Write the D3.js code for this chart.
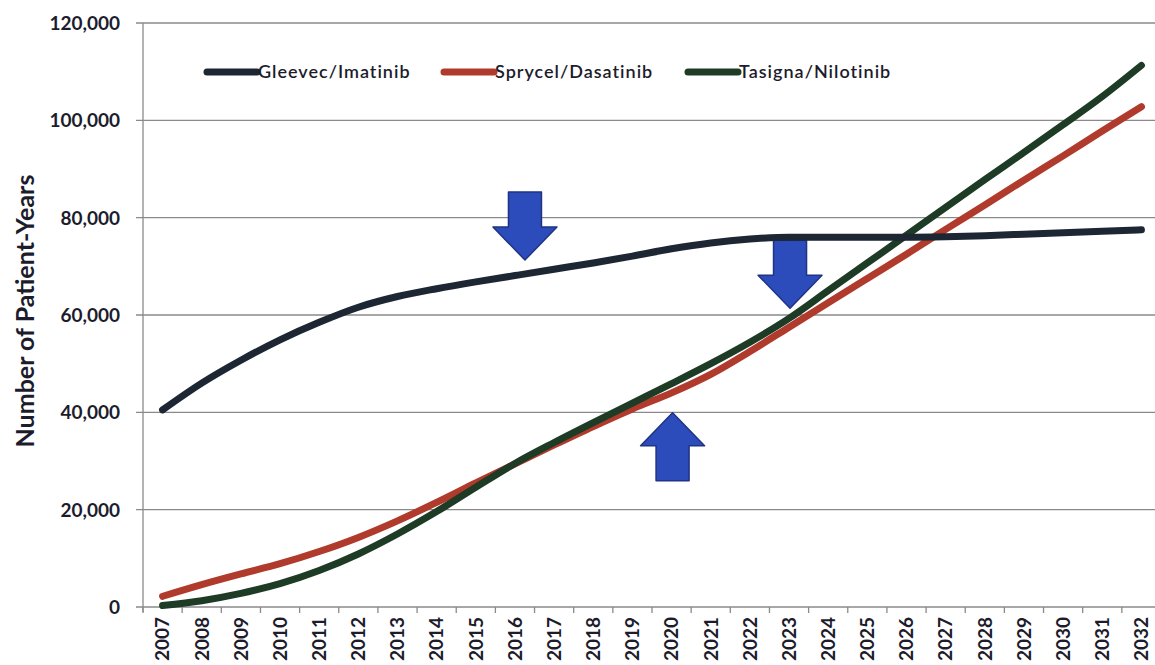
<!DOCTYPE html>
<html>
<head>
<meta charset="utf-8">
<script src="https://cdn.jsdelivr.net/npm/d3@7"></script>
<style>
  body { margin: 0; background: #fff; }
  text { font-family: Lato, "Open Sans", sans-serif; }
</style>
</head>
<body>
<div id="chart"></div>
<script>
// years on the x axis
var years = d3.range(2007, 2033).map(String);

// patient-years per drug
var gleevec = [40500, 46000, 50700, 54900, 58500, 61600, 63800, 65400, 66800, 68100,
               69400, 70700, 72100, 73600, 74800, 75600, 76000, 76000, 76000, 76000,
               76100, 76300, 76600, 76900, 77200, 77500];
var sprycel = [2200, 4600, 6800, 8900, 11400, 14300, 17700, 21500, 25500, 29400,
               33300, 37100, 40700, 44000, 47800, 52500, 57500, 62500, 67500, 72500,
               77600, 82600, 87700, 92700, 97800, 102800];
var tasigna = [300, 1300, 2800, 4800, 7500, 10900, 15000, 19600, 24600, 29500,
               33800, 37900, 41900, 45900, 50000, 54400, 59300, 65000, 70700, 76400,
               82100, 87800, 93400, 99100, 104900, 111300];

var seriesNames = ["Gleevec/Imatinib", "Sprycel/Dasatinib", "Tasigna/Nilotinib"];
var seriesColors = ["#1d2633", "#b03a2c", "#1e3b26"];

var yTicks = [0, 20000, 40000, 60000, 80000, 100000, 120000];

// blue arrow callouts: year, value at the tip, direction
var arrows = [
  {year: "2016", dx: 10, value: 71300, dir: "down"},
  {year: "2023", dx: 1, value: 61400, dir: "down"},
  {year: "2020", dx: 1, value: 39900, dir: "up"}
];

var width = 1155, height = 665;
var plotLeft = 143, plotRight = 1161, plotTop = 23, plotBottom = 607;

var svg = d3.select("#chart").append("svg")
    .attr("width", width)
    .attr("height", height);

var x = d3.scalePoint()
    .domain(years)
    .range([plotLeft, plotRight])
    .padding(0.5);

var y = d3.scaleLinear()
    .domain([0, 120000])
    .range([plotBottom, plotTop]);

var step = x.step();

// gridlines
svg.append("g")
  .selectAll("line")
  .data(yTicks)
  .enter().append("line")
    .attr("x1", plotLeft - 7)
    .attr("x2", width)
    .attr("y1", function(d) { return y(d); })
    .attr("y2", function(d) { return y(d); })
    .attr("stroke", "#8a8a8a")
    .attr("stroke-width", 1.3);

// y axis line
svg.append("line")
    .attr("x1", plotLeft).attr("x2", plotLeft)
    .attr("y1", y(120000)).attr("y2", plotBottom + 5)
    .attr("stroke", "#8a8a8a")
    .attr("stroke-width", 1.3);

// x tick marks at category edges
svg.append("g")
  .selectAll("line")
  .data(years)
  .enter().append("line")
    .attr("x1", function(d) { return x(d) - step / 2; })
    .attr("x2", function(d) { return x(d) - step / 2; })
    .attr("y1", plotBottom)
    .attr("y2", plotBottom + 6)
    .attr("stroke", "#8a8a8a")
    .attr("stroke-width", 1.3);

// y tick labels
svg.append("g")
  .selectAll("text")
  .data(yTicks)
  .enter().append("text")
    .attr("x", 120)
    .attr("y", function(d) { return y(d); })
    .attr("dy", "0.36em")
    .attr("text-anchor", "end")
    .attr("font-size", 19)
    .attr("font-weight", "bold")
    .attr("fill", "#1c1c2c")
    .text(function(d) { return d3.format(",")(d); });

// x tick labels, rotated
svg.append("g")
  .selectAll("text")
  .data(years)
  .enter().append("text")
    .attr("transform", function(d) { return "translate(" + x(d) + "," + (plotBottom + 10) + ") rotate(-90)"; })
    .attr("dy", "0.36em")
    .attr("text-anchor", "end")
    .attr("font-size", 19)
    .attr("font-weight", "bold")
    .attr("fill", "#1c1c2c")
    .text(function(d) { return d; });

// axis title
svg.append("text")
    .attr("transform", "translate(25,311) rotate(-90)")
    .attr("dy", "0.36em")
    .attr("text-anchor", "middle")
    .attr("font-size", 25)
    .attr("font-weight", "bold")
    .attr("fill", "#1c1c2c")
    .text("Number of Patient-Years");

// arrows (drawn under the lines)
var shaftW = 33, headW = 64, headL = 33, totalL = 68;
function arrowPath(tx, ty, dir) {
  var s = dir === "down" ? -1 : 1;
  var pts = [
    [tx, ty],
    [tx + headW / 2, ty + s * headL],
    [tx + shaftW / 2, ty + s * headL],
    [tx + shaftW / 2, ty + s * totalL],
    [tx - shaftW / 2, ty + s * totalL],
    [tx - shaftW / 2, ty + s * headL],
    [tx - headW / 2, ty + s * headL]
  ];
  return "M" + pts.join("L") + "Z";
}

svg.append("g")
  .selectAll("path")
  .data(arrows)
  .enter().append("path")
    .attr("d", function(d) { return arrowPath(x(d.year) + d.dx, y(d.value), d.dir); })
    .attr("fill", "#2c4cbb")
    .attr("stroke", "#1e3382")
    .attr("stroke-width", 1.5)
    .attr("stroke-linejoin", "round");

// lines
var allSeries = [gleevec, sprycel, tasigna];
var line = d3.line()
    .x(function(d, i) { return x(years[i]); })
    .y(function(d) { return y(d); })
    .curve(d3.curveMonotoneX);

svg.append("g")
  .selectAll("path")
  .data([sprycel, tasigna, gleevec])
  .enter().append("path")
    .attr("d", line)
    .attr("fill", "none")
    .attr("stroke", function(d) { return seriesColors[allSeries.indexOf(d)]; })
    .attr("stroke-width", 7)
    .attr("stroke-linecap", "round")
    .attr("stroke-linejoin", "round");

// legend
var legendX = [207, 444, 688];
var legend = svg.append("g")
  .selectAll("g")
  .data(seriesNames)
  .enter().append("g")
    .attr("transform", function(d, i) { return "translate(" + legendX[i] + ",72)"; });

legend.append("line")
    .attr("x1", 0).attr("x2", 50)
    .attr("stroke", function(d, i) { return seriesColors[i]; })
    .attr("stroke-width", 7)
    .attr("stroke-linecap", "round");

legend.append("text")
    .attr("x", 51)
    .attr("dy", "0.36em")
    .attr("font-size", 18)
    .attr("letter-spacing", 1)
    .attr("fill", "#1c1c2c")
    .attr("font-weight", 600)
    .text(function(d) { return d; });
</script>
</body>
</html>
